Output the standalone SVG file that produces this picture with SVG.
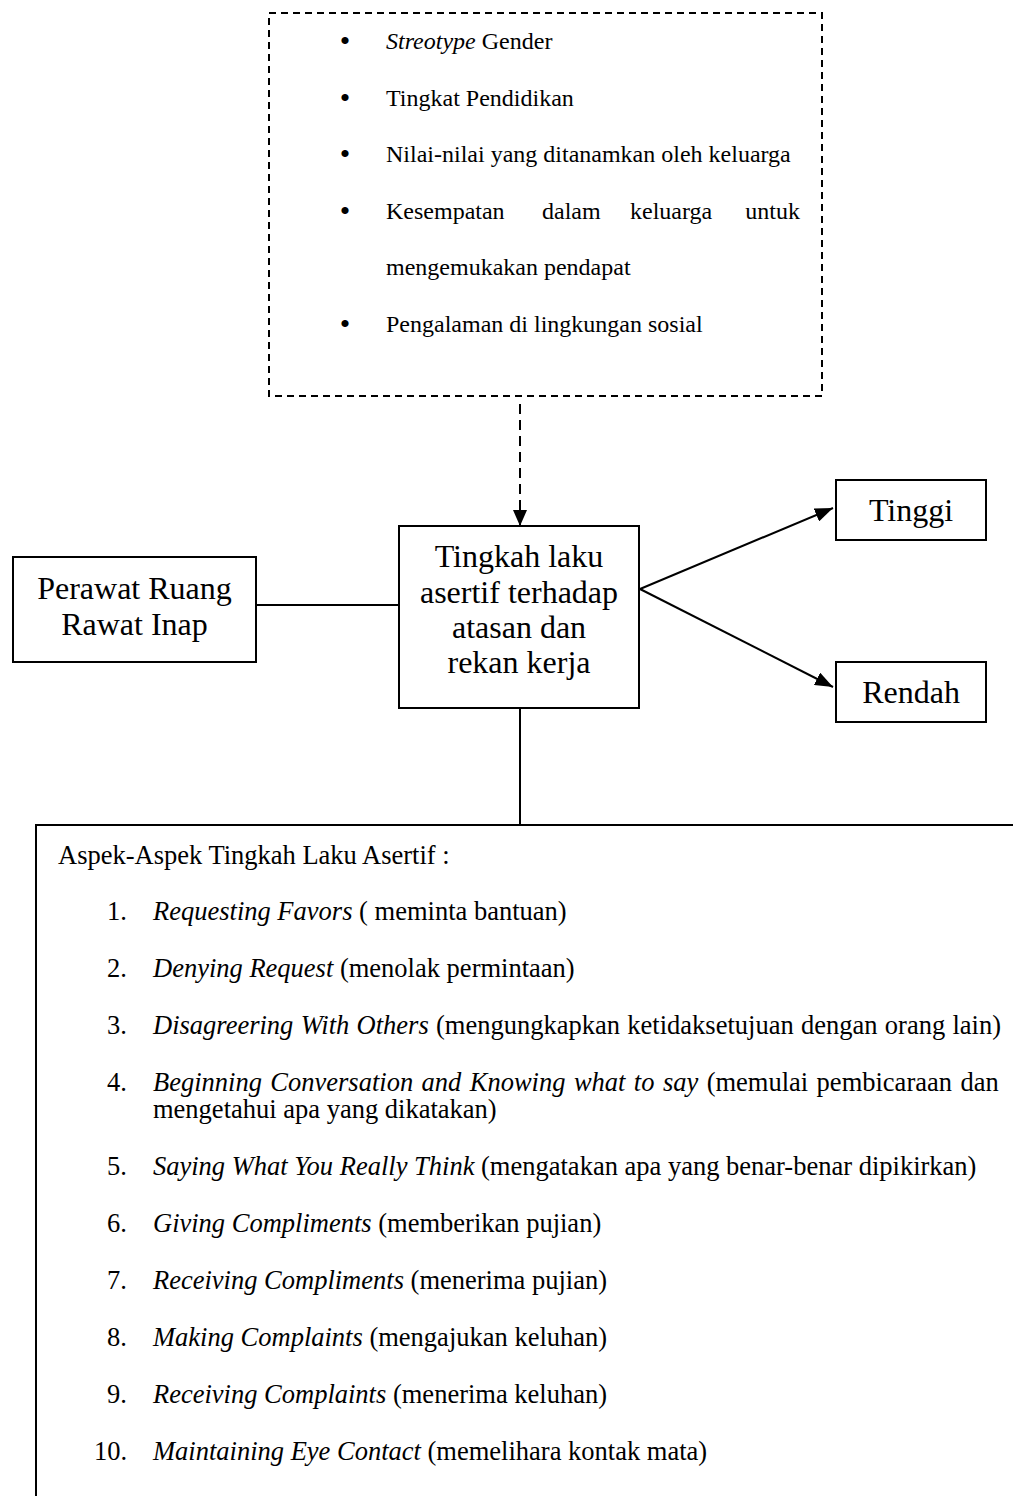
<svg xmlns="http://www.w3.org/2000/svg" width="1013" height="1496" viewBox="0 0 1013 1496">
<style>
text{font-family:"Liberation Serif","Times New Roman",serif;fill:#000}
.t24{font-size:24px}
.b{font-size:30px;text-anchor:middle}
.t26{font-size:26.5px}
.t32{font-size:32px}
.c{text-anchor:middle}
.box{fill:#fff;stroke:#000;stroke-width:2}
.ln{stroke:#000;stroke-width:2;fill:none}
.i{font-style:italic}
</style>
<defs>
<marker id="ah" viewBox="0 0 18 14" refX="18" refY="7" markerWidth="18" markerHeight="14" markerUnits="userSpaceOnUse" orient="auto">
<path d="M0,0 L18,7 L0,14 z" fill="#000"/>
</marker>
<marker id="ahs" viewBox="0 0 16 14" refX="16" refY="7" markerWidth="16" markerHeight="14" markerUnits="userSpaceOnUse" orient="auto">
<path d="M0,0 L16,7 L0,14 z" fill="#000"/>
</marker>
</defs>
<rect width="1013" height="1496" fill="#fff"/>

<g id="connectors">
<line class="ln" x1="520" y1="404" x2="520" y2="526" stroke-dasharray="10 6" marker-end="url(#ahs)"/>
<line class="ln" x1="256" y1="605" x2="399" y2="605"/>
<line class="ln" x1="640" y1="589" x2="833" y2="508" marker-end="url(#ah)"/>
<line class="ln" x1="640" y1="589" x2="833" y2="687" marker-end="url(#ah)"/>
<line class="ln" x1="520" y1="708" x2="520" y2="825"/>
</g>

<g id="faktor">
<rect x="269" y="13" width="553" height="383" fill="none" stroke="#000" stroke-width="2" stroke-dasharray="7 5"/>
<g class="t24">
<text x="345" y="51" class="b">•</text>
<text x="386" y="49"><tspan class="i">Streotype</tspan> Gender</text>
<text x="345" y="108" class="b">•</text>
<text x="386" y="106">Tingkat Pendidikan</text>
<text x="345" y="164" class="b">•</text>
<text x="386" y="162">Nilai-nilai yang ditanamkan oleh keluarga</text>
<text x="345" y="221" class="b">•</text>
<text x="386" y="219">Kesempatan</text>
<text x="542" y="219">dalam</text>
<text x="630" y="219">keluarga</text>
<text x="800" y="219" text-anchor="end">untuk</text>
<text x="386" y="275">mengemukakan pendapat</text>
<text x="345" y="334" class="b">•</text>
<text x="386" y="332">Pengalaman di lingkungan sosial</text>
</g>
</g>

<g id="perawat">
<rect class="box" x="13" y="557" width="243" height="105"/>
<text class="t32 c" x="134.5" y="599">Perawat Ruang</text>
<text class="t32 c" x="134.5" y="635">Rawat Inap</text>
</g>

<g id="tingkah">
<rect class="box" x="399" y="526" width="240" height="182"/>
<text class="t32 c" x="519" y="567">Tingkah laku</text>
<text class="t32 c" x="519" y="603">asertif terhadap</text>
<text class="t32 c" x="519" y="638">atasan dan</text>
<text class="t32 c" x="519" y="673">rekan kerja</text>
</g>

<g id="tinggi">
<rect class="box" x="836" y="480" width="150" height="60"/>
<text class="t32 c" x="911" y="521">Tinggi</text>
</g>

<g id="rendah">
<rect class="box" x="836" y="662" width="150" height="60"/>
<text class="t32 c" x="911" y="703">Rendah</text>
</g>

<g id="aspek">
<rect class="box" x="36" y="825" width="1000" height="700"/>
<g class="t26">
<text x="58" y="864">Aspek-Aspek Tingkah Laku Asertif :</text>
<text x="107" y="920">1.</text>
<text x="153" y="920"><tspan class="i">Requesting Favors</tspan> ( meminta bantuan)</text>
<text x="107" y="977">2.</text>
<text x="153" y="977"><tspan class="i">Denying Request</tspan> (menolak permintaan)</text>
<text x="107" y="1034">3.</text>
<text x="153" y="1034" word-spacing="0.7"><tspan class="i">Disagreering With Others</tspan> (mengungkapkan ketidaksetujuan dengan orang lain)</text>
<text x="107" y="1091">4.</text>
<text x="153" y="1091" word-spacing="1.8"><tspan class="i">Beginning Conversation and Knowing what to say</tspan> (memulai pembicaraan dan</text>
<text x="153" y="1118">mengetahui apa yang dikatakan)</text>
<text x="107" y="1175">5.</text>
<text x="153" y="1175"><tspan class="i">Saying What You Really Think</tspan> (mengatakan apa yang benar-benar dipikirkan)</text>
<text x="107" y="1232">6.</text>
<text x="153" y="1232"><tspan class="i">Giving Compliments</tspan> (memberikan pujian)</text>
<text x="107" y="1289">7.</text>
<text x="153" y="1289"><tspan class="i">Receiving Compliments</tspan> (menerima pujian)</text>
<text x="107" y="1346">8.</text>
<text x="153" y="1346"><tspan class="i">Making Complaints</tspan> (mengajukan keluhan)</text>
<text x="107" y="1403">9.</text>
<text x="153" y="1403"><tspan class="i">Receiving Complaints</tspan> (menerima keluhan)</text>
<text x="94" y="1460">10.</text>
<text x="153" y="1460"><tspan class="i">Maintaining Eye Contact</tspan> (memelihara kontak mata)</text>
</g>
</g>
</svg>
